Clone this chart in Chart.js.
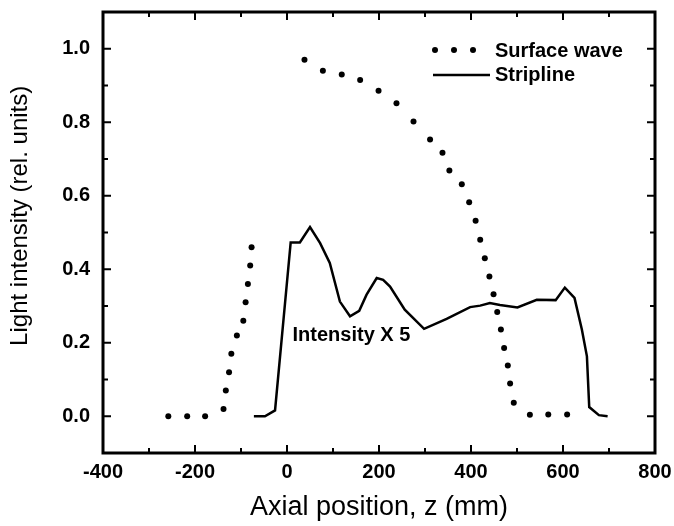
<!DOCTYPE html>
<html>
<head>
<meta charset="utf-8">
<script src="https://cdn.jsdelivr.net/npm/chart.js@4.4.0/dist/chart.umd.min.js"></script>
<style>
  html, body { margin: 0; padding: 0; background: #fff; }
</style>
</head>
<body>
<canvas id="myChart" width="674" height="526"></canvas>
<script>
// values
const surfaceZ = [-258, -217, -178, -138, -133, -126, -121, -109, -95, -90, -85, -80, -77,
  38, 78, 119, 159, 199, 238, 275, 311, 338, 353, 380, 396, 410, 420, 430, 440, 449, 457,
  465, 472, 480, 485, 493, 528, 568, 609];
const surfaceI = [0.0, 0.0, 0.0, 0.02, 0.07, 0.12, 0.17, 0.22, 0.26, 0.31, 0.36, 0.41, 0.46,
  0.97, 0.94, 0.93, 0.915, 0.886, 0.852, 0.802, 0.753, 0.717, 0.669, 0.631, 0.582, 0.532, 0.48, 0.43, 0.38, 0.332, 0.284,
  0.236, 0.186, 0.138, 0.089, 0.037, 0.004, 0.005, 0.005];

const striplineZ = [-72, -48, -26, 8, 28, 50, 72, 93, 115, 137, 157, 173, 195, 209, 224, 256,
  298, 347, 398, 420, 441, 463, 501, 543, 584, 604, 625, 641, 652, 657, 678, 697];
const striplineI = [0.0, 0.0, 0.016, 0.473, 0.473, 0.515, 0.471, 0.417, 0.312, 0.272, 0.287, 0.331, 0.376, 0.371, 0.353, 0.29,
  0.238, 0.265, 0.297, 0.301, 0.308, 0.303, 0.296, 0.317, 0.316, 0.35, 0.322, 0.236, 0.163, 0.025, 0.003, 0.0];

const seriesNames = ["Surface wave", "Stripline"];
const xTickValues = [-400, -200, 0, 200, 400, 600, 800];
const yTickValues = [0.0, 0.2, 0.4, 0.6, 0.8, 1.0];
const noteText = "Intensity X 5";
const noteZ = 12;
const noteI = 0.22;

const fontFam = '"Liberation Sans", Arial, Helvetica, sans-serif';

function toPoints(xs, ys) {
  return xs.map((x, i) => ({ x: x, y: ys[i] }));
}

// frame, inward ticks on all four sides, the note and the legend
const framePlugin = {
  id: 'frame',
  afterDraw(chart) {
    const { ctx, chartArea: a, scales: { x, y } } = chart;
    ctx.save();
    ctx.strokeStyle = '#000';
    ctx.lineWidth = 2;
    ctx.beginPath();
    for (let v = -400; v <= 800; v += 100) {
      const px = x.getPixelForValue(v);
      const len = v % 200 === 0 ? 8 : 5;
      ctx.moveTo(px, a.bottom); ctx.lineTo(px, a.bottom - len);
      ctx.moveTo(px, a.top); ctx.lineTo(px, a.top + len);
    }
    for (let i = -1; i <= 11; i++) {
      const py = y.getPixelForValue(i / 10);
      const len = i % 2 === 0 ? 8 : 5;
      ctx.moveTo(a.left, py); ctx.lineTo(a.left + len, py);
      ctx.moveTo(a.right, py); ctx.lineTo(a.right - len, py);
    }
    ctx.stroke();
    ctx.lineWidth = 3;
    ctx.strokeRect(a.left, a.top, a.width, a.height);

    ctx.fillStyle = '#000';
    ctx.font = 'bold 20px ' + fontFam;
    ctx.textAlign = 'left';
    ctx.textBaseline = 'middle';
    ctx.fillText(noteText, x.getPixelForValue(noteZ), y.getPixelForValue(noteI));

    // legend
    const lx = a.left + 330, ly = a.top + 38;
    for (let k = 0; k < 3; k++) {
      ctx.beginPath();
      ctx.arc(lx + 2 + k * 19, ly, 3, 0, Math.PI * 2);
      ctx.fill();
    }
    ctx.fillText(chart.data.datasets[0].label, lx + 62, ly + 1);
    ctx.lineWidth = 2.5;
    ctx.beginPath();
    ctx.moveTo(lx, ly + 25); ctx.lineTo(lx + 57, ly + 25);
    ctx.stroke();
    ctx.fillText(chart.data.datasets[1].label, lx + 62, ly + 25);
    ctx.restore();
  }
};

const ctx = document.getElementById('myChart').getContext('2d');
const myChart = new Chart(ctx, {
  type: 'scatter',
  data: {
    datasets: [
      {
        label: seriesNames[0],
        data: toPoints(surfaceZ, surfaceI),
        showLine: false,
        pointRadius: 3,
        pointBackgroundColor: '#000',
        pointBorderWidth: 0
      },
      {
        label: seriesNames[1],
        data: toPoints(striplineZ, striplineI),
        showLine: true,
        borderColor: '#000',
        borderWidth: 2.5,
        pointRadius: 0,
        tension: 0
      }
    ]
  },
  options: {
    responsive: false,
    animation: false,
    devicePixelRatio: 1,
    layout: { padding: { top: 12, right: 19, left: 0, bottom: 0 } },
    plugins: {
      legend: { display: false },
      tooltip: { enabled: false }
    },
    scales: {
      x: {
        type: 'linear',
        min: -400,
        max: 800,
        afterBuildTicks: s => { s.ticks = xTickValues.map(v => ({ value: v })); },
        afterFit: s => { s.height = 73; s.paddingLeft = 0; s.paddingRight = 0; },
        grid: { display: false, drawTicks: false },
        border: { display: false },
        ticks: {
          color: '#000',
          padding: 7,
          maxRotation: 0,
          font: { family: fontFam, size: 20, weight: 'bold' },
          callback: v => String(v)
        },
        title: {
          display: true,
          text: 'Axial position, z (mm)',
          color: '#000',
          font: { family: fontFam, size: 27 },
          padding: { top: 0, bottom: 2 }
        }
      },
      y: {
        type: 'linear',
        min: -0.1,
        max: 1.1,
        afterBuildTicks: s => { s.ticks = yTickValues.map(v => ({ value: v })); },
        afterFit: s => { s.width = 103; s.paddingTop = 0; s.paddingBottom = 0; },
        grid: { display: false, drawTicks: false },
        border: { display: false },
        ticks: {
          color: '#000',
          padding: 13,
          font: { family: fontFam, size: 20, weight: 'bold' },
          callback: v => v.toFixed(1)
        },
        title: {
          display: true,
          // leading spaces nudge the rotated title up, as in the original
          text: '     Light intensity (rel. units)',
          color: '#000',
          font: { family: fontFam, size: 24 },
          padding: { top: 6, bottom: 0 }
        }
      }
    }
  },
  plugins: [framePlugin]
});
</script>
</body>
</html>
